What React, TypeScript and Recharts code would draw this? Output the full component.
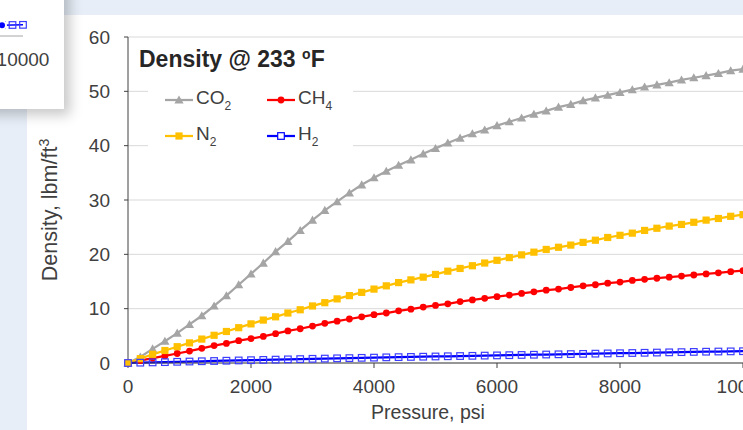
import React from 'react';
import { LineChart, Line, XAxis, YAxis, CartesianGrid } from 'recharts';

// pressure, psi (every 200 psi)
const pressure = [
  0, 200, 400, 600, 800, 1000, 1200, 1400, 1600, 1800,
  2000, 2200, 2400, 2600, 2800, 3000, 3200, 3400, 3600, 3800,
  4000, 4200, 4400, 4600, 4800, 5000, 5200, 5400, 5600, 5800,
  6000, 6200, 6400, 6600, 6800, 7000, 7200, 7400, 7600, 7800,
  8000, 8200, 8400, 8600, 8800, 9000, 9200, 9400, 9600, 9800, 10000,
];

// density, lbm/ft3
const co2 = [
  0, 1.1, 2.6, 4.0, 5.5, 7.1, 8.7, 10.5, 12.4, 14.4,
  16.4, 18.4, 20.5, 22.4, 24.4, 26.3, 28.1, 29.7, 31.3, 32.8,
  34.1, 35.3, 36.4, 37.4, 38.5, 39.5, 40.5, 41.4, 42.2, 42.9,
  43.7, 44.4, 45.1, 45.8, 46.4, 47.1, 47.6, 48.3, 48.8, 49.3,
  49.8, 50.3, 50.8, 51.2, 51.6, 52.1, 52.5, 52.9, 53.3, 53.8, 54.1,
];
const ch4 = [
  0, 0.45, 0.9, 1.3, 1.75, 2.2, 2.7, 3.2, 3.6, 4.1,
  4.5, 4.9, 5.4, 5.9, 6.3, 6.8, 7.3, 7.7, 8.1, 8.5,
  8.9, 9.2, 9.6, 9.9, 10.3, 10.6, 10.9, 11.3, 11.6, 11.9,
  12.2, 12.5, 12.8, 13.1, 13.4, 13.6, 13.9, 14.2, 14.4, 14.7,
  14.9, 15.2, 15.4, 15.6, 15.8, 16.0, 16.2, 16.4, 16.6, 16.8, 17.0,
];
const n2 = [
  0, 0.8, 1.6, 2.3, 3.0, 3.7, 4.4, 5.1, 5.8, 6.5,
  7.2, 7.9, 8.5, 9.2, 9.8, 10.5, 11.1, 11.8, 12.4, 13.0,
  13.6, 14.2, 14.8, 15.3, 15.8, 16.3, 16.9, 17.4, 17.9, 18.4,
  18.9, 19.4, 19.9, 20.4, 20.9, 21.3, 21.7, 22.2, 22.6, 23.1,
  23.5, 23.9, 24.4, 24.8, 25.2, 25.5, 25.9, 26.3, 26.6, 27.0, 27.3,
];
const h2 = [
  0, 0.06, 0.11, 0.16, 0.22, 0.27, 0.32, 0.37, 0.42, 0.47,
  0.52, 0.57, 0.62, 0.67, 0.72, 0.77, 0.81, 0.86, 0.9, 0.95,
  0.99, 1.04, 1.08, 1.12, 1.16, 1.2, 1.24, 1.28, 1.32, 1.36,
  1.4, 1.44, 1.48, 1.52, 1.56, 1.6, 1.64, 1.68, 1.72, 1.76,
  1.8, 1.84, 1.88, 1.92, 1.96, 2.0, 2.04, 2.08, 2.11, 2.14, 2.17,
];

const xTicks = [0, 2000, 4000, 6000, 8000, 10000];
const yTicks = [0, 10, 20, 30, 40, 50, 60];

const data = pressure.map((p, i) => ({ p, co2: co2[i], ch4: ch4[i], n2: n2[i], h2: h2[i] }));

const FONT = '"Liberation Sans", Arial, sans-serif';
const TEXT = '#404040';
const C_CO2 = '#a5a5a5';
const C_CH4 = '#ff0000';
const C_N2 = '#ffc000';
const C_H2 = '#0000ff';

const triangleDot = (props: any) => {
  const { cx, cy, index } = props;
  if (cx == null || cy == null) return <g key={`t${index}`} />;
  return (
    <polygon key={`t${index}`} points={`${cx},${cy - 4.5} ${cx + 4.6},${cy + 3.6} ${cx - 4.6},${cy + 3.6}`} fill={C_CO2} />
  );
};
const circleDot = (props: any) => {
  const { cx, cy, index } = props;
  if (cx == null || cy == null) return <g key={`c${index}`} />;
  return <circle key={`c${index}`} cx={cx} cy={cy} r={3.4} fill={C_CH4} />;
};
const squareDot = (props: any) => {
  const { cx, cy, index } = props;
  if (cx == null || cy == null) return <g key={`s${index}`} />;
  return <rect key={`s${index}`} x={cx - 3.6} y={cy - 3.6} width={7.2} height={7.2} fill={C_N2} />;
};
const openSquareDot = (props: any) => {
  const { cx, cy, index } = props;
  if (cx == null || cy == null) return <g key={`o${index}`} />;
  return (
    <rect key={`o${index}`} x={cx - 3.3} y={cy - 3.3} width={6.6} height={6.6}
      fill="none" stroke="#3d3dff" strokeWidth={1.2} />
  );
};

const Swatch = ({ color, kind }: { color: string; kind: string }) => (
  <svg width={30} height={14} style={{ display: 'block' }}>
    <line x1={1} y1={7} x2={29} y2={7} stroke={color} strokeWidth={2.25} />
    {kind === 'tri' && <polygon points="15,2.5 19.6,10.6 10.4,10.6" fill={color} />}
    {kind === 'circle' && <circle cx={15} cy={7} r={3.4} fill={color} />}
    {kind === 'square' && <rect x={11.4} y={3.4} width={7.2} height={7.2} fill={color} />}
    {kind === 'open' && <rect x={11.7} y={3.7} width={6.6} height={6.6} fill="white" stroke={color} strokeWidth={1.2} />}
  </svg>
);

const legendItems = [
  { name: 'CO', sub: '2', color: C_CO2, kind: 'tri' },
  { name: 'CH', sub: '4', color: C_CH4, kind: 'circle' },
  { name: 'N', sub: '2', color: C_N2, kind: 'square' },
  { name: 'H', sub: '2', color: C_H2, kind: 'open' },
];

export default function App() {
  return (
    <div style={{
      position: 'fixed', left: 0, top: 0, width: 743, height: 430, overflow: 'hidden',
      background: '#e7eef7', fontFamily: FONT,
    }}>
      {/* white chart panel */}
      <div style={{ position: 'absolute', left: 27, top: 15, right: 0, bottom: 0, background: '#fff' }} />

      <div style={{ position: 'absolute', left: 0, top: 0 }}>
        <LineChart width={800} height={430} data={data} margin={{ top: 37, right: 57, bottom: 0, left: 0 }}>
          <CartesianGrid vertical={false} stroke="#d9d9d9" strokeWidth={1} />
          <XAxis
            dataKey="p"
            type="number"
            domain={[0, 10000]}
            ticks={xTicks}
            height={67}
            tick={{ fill: TEXT, fontSize: 19, fontFamily: FONT }}
            tickSize={5}
            tickMargin={12}
            axisLine={{ stroke: '#404040' }}
            tickLine={{ stroke: '#404040' }}
            label={{
              content: () => (
                <text x={428} y={419} textAnchor="middle" fill={TEXT} fontSize={19.5} fontFamily={FONT}>Pressure, psi</text>
              ),
            }}
          />
          <YAxis
            type="number"
            domain={[0, 60]}
            ticks={yTicks}
            width={128}
            tick={{ fill: TEXT, fontSize: 19, fontFamily: FONT }}
            tickSize={4}
            tickMargin={14}
            axisLine={{ stroke: '#404040' }}
            tickLine={{ stroke: '#404040' }}
            label={{
              content: () => (
                <text x={57} y={210} transform="rotate(-90 57 210)" textAnchor="middle" fill={TEXT} fontSize={21.5} fontFamily={FONT}>
                  Density, lbm/ft<tspan dy={-8} fontSize={14}>3</tspan>
                </text>
              ),
            }}
          />
          <Line type="linear" dataKey="co2" stroke={C_CO2} strokeWidth={2.25} dot={triangleDot} isAnimationActive={false} />
          <Line type="linear" dataKey="ch4" stroke={C_CH4} strokeWidth={2.25} dot={circleDot} isAnimationActive={false} />
          <Line type="linear" dataKey="n2" stroke={C_N2} strokeWidth={2.25} dot={squareDot} isAnimationActive={false} />
          <Line type="linear" dataKey="h2" stroke={C_H2} strokeWidth={2.25} dot={openSquareDot} isAnimationActive={false} />
        </LineChart>
      </div>

      {/* title */}
      <div style={{
        position: 'absolute', left: 139, top: 41, fontSize: 23, fontWeight: 'bold', color: '#262626',
        whiteSpace: 'nowrap', lineHeight: '26px',
      }}>
        Density @ 233 <span style={{ fontSize: 14, verticalAlign: 8 }}>o</span>F
      </div>

      {/* legend */}
      <div style={{
        position: 'absolute', left: 148, top: 80, width: 205, height: 74, background: '#fff',
        display: 'grid', gridTemplateColumns: '102px 102px', gridAutoRows: '36px', paddingLeft: 16,
        boxSizing: 'border-box', paddingTop: 2,
      }}>
        {legendItems.map((it) => (
          <div key={it.name + it.sub} style={{ display: 'flex', alignItems: 'center', gap: 2, color: TEXT, fontSize: 19 }}>
            <Swatch color={it.color} kind={it.kind} />
            <span>{it.name}<sub style={{ fontSize: 12, verticalAlign: -6 }}>{it.sub}</sub></span>
          </div>
        ))}
      </div>

      {/* neighbouring card, partly visible */}
      <div style={{
        position: 'absolute', left: -20, top: -20, width: 84, height: 129, background: '#fff',
        boxShadow: '6px 6px 12px rgba(0,0,0,0.22)', overflow: 'hidden',
      }}>
        <div style={{ position: 'absolute', left: -482, top: 20 }}>
          <LineChart width={565} height={109} data={data} margin={{ top: 0, right: 40, bottom: 0, left: 0 }}>
            <XAxis
              dataKey="p"
              type="number"
              domain={[0, 10000]}
              ticks={[10000]}
              height={73}
              tick={{ fill: TEXT, fontSize: 19, fontFamily: FONT }}
              tickLine={false}
              tickMargin={11}
              axisLine={{ stroke: '#a6a6a6' }}
            />
            <YAxis hide domain={[0, 7]} />
            <Line type="linear" dataKey="h2" stroke={C_H2} strokeWidth={1.5} dot={openSquareDot} isAnimationActive={false} />
          </LineChart>
        </div>
      </div>
    </div>
  );
}
